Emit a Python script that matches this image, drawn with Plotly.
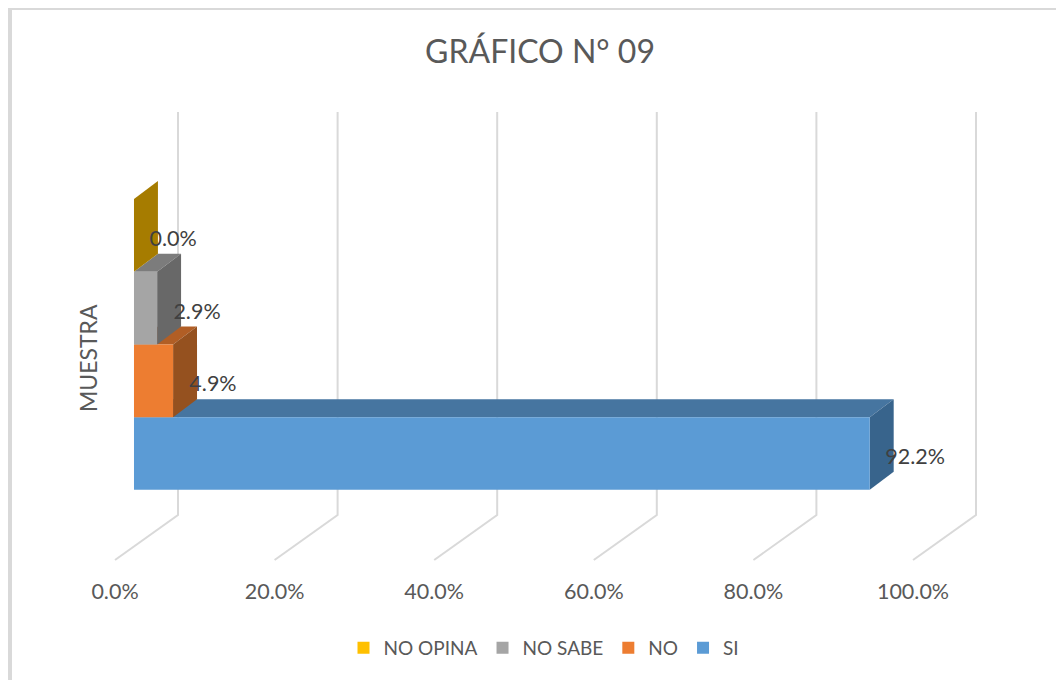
import plotly.graph_objects as go

categories = ['SI', 'NO', 'NO SABE', 'NO OPINA']
values = [92.2, 4.9, 2.9, 0.0]
labels = ['92.2%', '4.9%', '2.9%', '0.0%']
x_ticks = [0, 20, 40, 60, 80, 100]
x_ticklabels = ['0.0%', '20.0%', '40.0%', '60.0%', '80.0%', '100.0%']

front_colors = ['#5B9BD5', '#ED7D31', '#A5A5A5', '#FFC000']
top_colors = ['#4675A0', '#B15E25', '#7C7C7C', '#BF9000']
side_colors = ['#38648C', '#95511F', '#686868', '#A67C00']

FONT = 'Lato'
# the page keeps an 8px body margin, so the figure starts at (8, 8)
W, H = 1064, 672
X_UNIT = 7.98    # px per percent
Y_UNIT = 72.7    # px per bar
X0_PX = 107
Y0_PX = 445.5
AXIS_PX = 568

base = 2.38      # bars sit inside the floor of the 3D box
depth_x = 3.0
depth_y = 0.2476
half = 0.5
label_dx = [5.7, 5.0, 5.0, 4.9]
label_dy = -0.07

x_range = [-X0_PX / X_UNIT, (W - X0_PX) / X_UNIT]
y_range = [(Y0_PX - AXIS_PX) / Y_UNIT, Y0_PX / Y_UNIT]

floor_front = -1.465
floor_back = -0.846
wall_top = 4.697
wall_dx = 7.895

fig = go.Figure()

# wall + floor gridlines
for t in x_ticks:
    fig.add_trace(go.Scatter(x=[t, t + wall_dx, t + wall_dx],
                             y=[floor_front, floor_back, wall_top],
                             mode='lines', line=dict(color='#D9D9D9', width=2),
                             showlegend=False, hoverinfo='skip'))

# sides and tops of the boxes, back of the stack is painted last
for i, v in enumerate(values):
    end = base + v
    fig.add_trace(go.Scatter(x=[base, base + depth_x, end + depth_x, end, base],
                             y=[i + half, i + half + depth_y, i + half + depth_y, i + half, i + half],
                             mode='lines', fill='toself', fillcolor=top_colors[i],
                             line=dict(width=0), showlegend=False, hoverinfo='skip'))
    fig.add_trace(go.Scatter(x=[end, end + depth_x, end + depth_x, end, end],
                             y=[i - half, i - half + depth_y, i + half + depth_y, i + half, i - half],
                             mode='lines', fill='toself', fillcolor=side_colors[i],
                             line=dict(width=0), showlegend=False, hoverinfo='skip'))

# front faces on the overlay axes so they stay above the sides
for i, v in enumerate(values):
    fig.add_trace(go.Bar(x=[v], y=[i], base=base, width=1, orientation='h',
                         name=categories[i], marker=dict(color=front_colors[i], line=dict(width=0)),
                         xaxis='x2', yaxis='y2'))

fig.add_trace(go.Scatter(x=[v + base + d for v, d in zip(values, label_dx)],
                         y=[i + label_dy for i in range(len(values))],
                         text=labels, mode='text', textposition='middle center',
                         textfont=dict(family=FONT, size=21.5, color='#404040'),
                         showlegend=False, hoverinfo='skip', xaxis='x2', yaxis='y2'))

y_domain = [(H - AXIS_PX) / H, 1]

fig.update_layout(
    width=W, height=H,
    margin=dict(l=0, r=0, t=0, b=0),
    paper_bgcolor='white', plot_bgcolor='white',
    barmode='overlay',
    font=dict(family=FONT, color='#595959'),
    title=dict(text='GRÁFICO N° 09', x=532 / W, xanchor='center', y=1 - 44 / H, yanchor='middle',
               font=dict(family=FONT, size=32, color='#595959')),
    xaxis=dict(range=x_range, tickmode='array', tickvals=x_ticks, ticktext=x_ticklabels,
               showgrid=False, zeroline=False, showline=False, ticks='',
               tickfont=dict(family=FONT, size=21.5, color='#595959')),
    yaxis=dict(range=y_range, domain=y_domain, visible=False),
    xaxis2=dict(range=x_range, overlaying='x', visible=False),
    yaxis2=dict(range=y_range, overlaying='y', visible=False),
    legend=dict(orientation='h', traceorder='reversed', x=536 / W, xanchor='center',
                y=1 - 640 / H, yanchor='middle', font=dict(family=FONT, size=19, color='#595959')),
    annotations=[dict(text='MUESTRA', x=80 / W, y=1 - 350 / H, xref='paper', yref='paper',
                      textangle=-90, showarrow=False, xanchor='center', yanchor='middle',
                      font=dict(family=FONT, size=23, color='#595959'))],
    shapes=[
        dict(type='rect', xref='paper', yref='paper', x0=0, x1=4 / W, y0=0, y1=1,
             fillcolor='#D9D9D9', line=dict(width=0)),
        dict(type='rect', xref='paper', yref='paper', x0=0, x1=1, y0=1 - 2 / H, y1=1,
             fillcolor='#D9D9D9', line=dict(width=0)),
    ],
)

fig.write_html('out.html')
